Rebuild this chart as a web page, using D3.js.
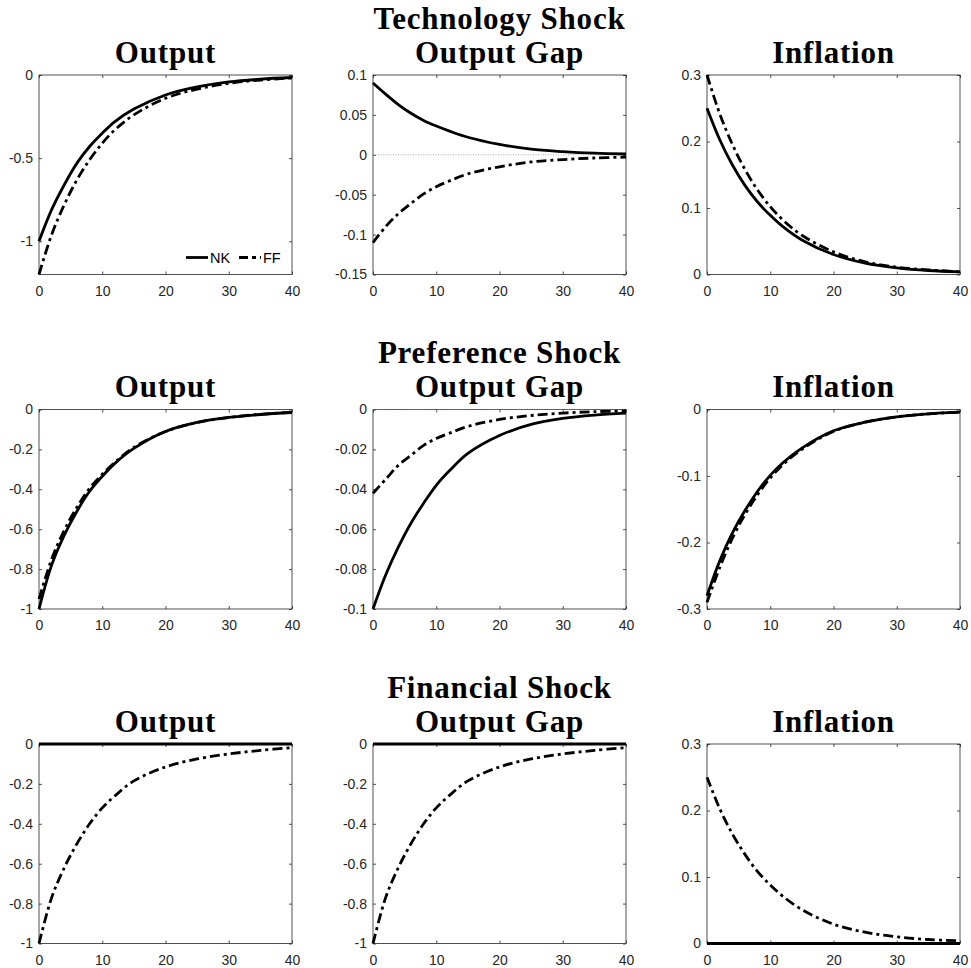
<!DOCTYPE html>
<html>
<head>
<meta charset="utf-8">
<script src="https://cdn.jsdelivr.net/npm/d3@7"></script>
<style>
    body { margin: 0; background: #fff; }
    .tick text { font-family: "Liberation Sans", Arial, sans-serif; font-size: 14px; fill: #262626; }
    .tick line { stroke: #262626; stroke-width: 0.8; }
    .title { font-family: "Liberation Serif", "Times New Roman", serif; font-weight: bold; font-size: 31px; letter-spacing: 0.8px; fill: #000; }
    .legend-label { font-family: "Liberation Sans", Arial, sans-serif; font-size: 14.5px; fill: #000; }
</style>
</head>
<body>
<svg id="chart" width="971" height="968"></svg>
<script>
// Impulse responses (quarters 0..40)
const horizon = [0, 2, 4, 6, 8, 10, 12, 15, 20, 25, 30, 35, 40];
const shocks = ["Technology Shock", "Preference Shock", "Financial Shock"];
const variables = ["Output", "Output Gap", "Inflation"];
const seriesNames = ["NK", "FF"];
const xTicks = [0, 10, 20, 30, 40];

const techOutputNK = [-1.00, -0.81, -0.66, -0.53, -0.43, -0.35, -0.28, -0.205, -0.12, -0.072, -0.042, -0.025, -0.015];
const techOutputFF = [-1.20, -0.96, -0.78, -0.63, -0.51, -0.41, -0.33, -0.24, -0.14, -0.085, -0.05, -0.03, -0.018];
const techGapNK = [0.090, 0.076, 0.063, 0.052, 0.043, 0.036, 0.030, 0.022, 0.013, 0.007, 0.004, 0.002, 0.001];
const techGapFF = [-0.110, -0.090, -0.074, -0.061, -0.049, -0.040, -0.033, -0.024, -0.015, -0.009, -0.006, -0.004, -0.003];
const techInflNK = [0.250, 0.203, 0.165, 0.134, 0.109, 0.089, 0.072, 0.052, 0.030, 0.017, 0.010, 0.006, 0.004];
const techInflFF = [0.300, 0.242, 0.196, 0.158, 0.127, 0.102, 0.082, 0.059, 0.034, 0.019, 0.011, 0.007, 0.004];

const prefOutputNK = [-1.00, -0.78, -0.63, -0.51, -0.41, -0.335, -0.27, -0.195, -0.11, -0.065, -0.04, -0.025, -0.015];
const prefOutputFF = [-0.95, -0.75, -0.605, -0.49, -0.395, -0.325, -0.265, -0.19, -0.11, -0.065, -0.04, -0.024, -0.014];
const prefGapNK = [-0.100, -0.083, -0.069, -0.057, -0.047, -0.038, -0.031, -0.022, -0.013, -0.0075, -0.0045, -0.0028, -0.0018];
const prefGapFF = [-0.042, -0.035, -0.028, -0.023, -0.018, -0.0145, -0.012, -0.0085, -0.005, -0.003, -0.0018, -0.0011, -0.0007];
const prefInflNK = [-0.280, -0.228, -0.186, -0.152, -0.123, -0.099, -0.080, -0.058, -0.032, -0.019, -0.011, -0.0065, -0.004];
const prefInflFF = [-0.290, -0.238, -0.194, -0.158, -0.128, -0.103, -0.083, -0.060, -0.033, -0.019, -0.011, -0.0065, -0.004];

const finOutputNK = [0, 0, 0, 0, 0, 0, 0, 0, 0, 0, 0, 0, 0];
const finOutputFF = [-1.00, -0.77, -0.62, -0.50, -0.40, -0.32, -0.26, -0.185, -0.115, -0.075, -0.05, -0.032, -0.018];
const finGapNK = [0, 0, 0, 0, 0, 0, 0, 0, 0, 0, 0, 0, 0];
const finGapFF = [-1.00, -0.77, -0.62, -0.50, -0.40, -0.32, -0.26, -0.185, -0.115, -0.075, -0.05, -0.032, -0.018];
const finInflNK = [0, 0, 0, 0, 0, 0, 0, 0, 0, 0, 0, 0, 0];
const finInflFF = [0.250, 0.203, 0.165, 0.134, 0.108, 0.088, 0.071, 0.051, 0.029, 0.017, 0.010, 0.006, 0.004];

const panels = [
    { row: 0, col: 0, nk: techOutputNK, ff: techOutputFF, yDomain: [-1.2, 0], yTicks: [-1, -0.5, 0], legend: true },
    { row: 0, col: 1, nk: techGapNK, ff: techGapFF, yDomain: [-0.15, 0.1], yTicks: [-0.15, -0.1, -0.05, 0, 0.05, 0.1] },
    { row: 0, col: 2, nk: techInflNK, ff: techInflFF, yDomain: [0, 0.3], yTicks: [0, 0.1, 0.2, 0.3] },
    { row: 1, col: 0, nk: prefOutputNK, ff: prefOutputFF, yDomain: [-1, 0], yTicks: [-1, -0.8, -0.6, -0.4, -0.2, 0] },
    { row: 1, col: 1, nk: prefGapNK, ff: prefGapFF, yDomain: [-0.1, 0], yTicks: [-0.1, -0.08, -0.06, -0.04, -0.02, 0] },
    { row: 1, col: 2, nk: prefInflNK, ff: prefInflFF, yDomain: [-0.3, 0], yTicks: [-0.3, -0.2, -0.1, 0] },
    { row: 2, col: 0, nk: finOutputNK, ff: finOutputFF, yDomain: [-1, 0], yTicks: [-1, -0.8, -0.6, -0.4, -0.2, 0] },
    { row: 2, col: 1, nk: finGapNK, ff: finGapFF, yDomain: [-1, 0], yTicks: [-1, -0.8, -0.6, -0.4, -0.2, 0] },
    { row: 2, col: 2, nk: finInflNK, ff: finInflFF, yDomain: [0, 0.3], yTicks: [0, 0.1, 0.2, 0.3] }
];

const svg = d3.select("#chart");
const colLeft = [39, 373, 707];
const rowTop = [75, 409.5, 744];
const panelW = 253;
const panelH = 199.5;

const lineStyles = {
    NK: { dash: null },
    FF: { dash: "10,4,3,4" }
};

const fmt = (v) => String(+v.toFixed(4));

// shock titles over the middle column
shocks.forEach((s, i) => {
    svg.append("text")
        .attr("class", "title")
        .attr("x", colLeft[1] + panelW / 2)
        .attr("y", rowTop[i] - 46.5)
        .attr("text-anchor", "middle")
        .text(s);
});

panels.forEach((p) => {
    const g = svg.append("g").attr("transform", `translate(${colLeft[p.col]},${rowTop[p.row]})`);
    const x = d3.scaleLinear().domain([0, 40]).range([0, panelW]);
    const y = d3.scaleLinear().domain(p.yDomain).range([panelH, 0]);

    g.append("text")
        .attr("class", "title")
        .attr("x", panelW / 2)
        .attr("y", -12.5)
        .attr("text-anchor", "middle")
        .text(variables[p.col]);

    // ticks inside, mirrored on top/right like a boxed axes
    const axes = [
        g.append("g").attr("transform", `translate(0,${panelH})`)
            .call(d3.axisBottom(x).tickValues(xTicks).tickSize(-3).tickPadding(11.5).tickFormat(fmt)),
        g.append("g")
            .call(d3.axisTop(x).tickValues(xTicks).tickSize(-3).tickFormat("")),
        g.append("g")
            .call(d3.axisLeft(y).tickValues(p.yTicks).tickSize(-3).tickPadding(6).tickFormat(fmt)),
        g.append("g").attr("transform", `translate(${panelW},0)`)
            .call(d3.axisRight(y).tickValues(p.yTicks).tickSize(-3).tickFormat(""))
    ];
    axes.forEach((a) => a.select(".domain").remove());

    g.append("rect")
        .attr("width", panelW)
        .attr("height", panelH)
        .attr("fill", "none")
        .attr("stroke", "#262626")
        .attr("stroke-width", 0.8);

    if (p.col === 1) {
        g.append("line")
            .attr("x1", 0).attr("x2", panelW)
            .attr("y1", y(0)).attr("y2", y(0))
            .attr("stroke", "#8c8c8c")
            .attr("stroke-width", 0.7)
            .attr("stroke-dasharray", "1,1.5");
    }

    const line = d3.line()
        .x((d, i) => x(horizon[i]))
        .y((d) => y(d))
        .curve(d3.curveCatmullRom.alpha(0.5));

    [["NK", p.nk], ["FF", p.ff]].forEach(([name, vals]) => {
        g.append("path")
            .datum(vals)
            .attr("d", line)
            .attr("fill", "none")
            .attr("stroke", "#000")
            .attr("stroke-width", 2.8)
            .attr("stroke-dasharray", lineStyles[name].dash);
    });

    if (p.legend) {
        const lg = g.append("g").attr("transform", `translate(${panelW - 106},${panelH - 17})`);
        let offset = 0;
        seriesNames.forEach((name) => {
            lg.append("line")
                .attr("x1", offset).attr("x2", offset + 22)
                .attr("y1", 0).attr("y2", 0)
                .attr("stroke", "#000")
                .attr("stroke-width", 2.8)
                .attr("stroke-dasharray", name === "FF" ? "9,4,4,4" : null);
            lg.append("text")
                .attr("class", "legend-label")
                .attr("x", offset + 24)
                .attr("y", 5.5)
                .text(name);
            offset += 53;
        });
    }
});
</script>
</body>
</html>
